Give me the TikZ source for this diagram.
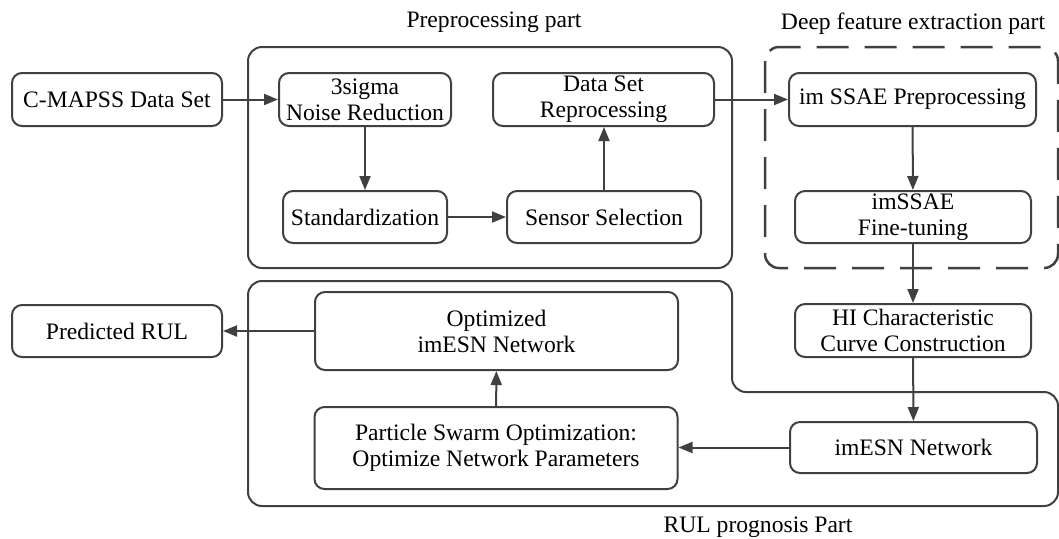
\documentclass[tikz,border=0pt]{standalone}
\usepackage{fontspec}
\setmainfont{Liberation Serif}
\usetikzlibrary{arrows.meta}

\begin{document}
\begin{tikzpicture}[x=0.5pt, y=-0.5pt,
    font=\fontsize{11.8}{13}\selectfont,
    box/.style={draw=black!75, line width=1pt, rounded corners=5pt, align=center, inner sep=0pt},
    frame/.style={draw=black!75, line width=1pt, rounded corners=7pt},
    arr/.style={draw=black!75, line width=1pt, -{Triangle[length=7pt, width=5.5pt]}}]
    \useasboundingbox (0,0) rectangle (1059,538);

    % 枠
    \draw[frame] (248,47) rectangle (732,268);
    \draw[frame, line width=1.25pt, dash pattern=on 16pt off 8pt] (765,47) rectangle (1058,268);
    \draw[frame] (248,281) -- (732,281) -- (732,392) -- (1058,392) -- (1058,506) -- (248,506) -- cycle;

    % 枠のラベル
    \node (lpre) at (494,22) {Preprocessing part};
    \node (ldeep) at (913,24) {Deep feature extraction part};
    \node (lrul) at (758,527) {RUL prognosis Part};

    % ノード
    \node[box, minimum width=105pt, minimum height=26.5pt] (data) at (117,99.5) {C-MAPSS Data Set};
    \node[box, minimum width=86pt, minimum height=26.5pt] (sigma) at (365,99.5) {3sigma\\Noise Reduction};
    \node[box, minimum width=82pt, minimum height=26pt] (std) at (365,217) {Standardization};
    \node[box, minimum width=97pt, minimum height=26pt] (sensor) at (604,217) {Sensor Selection};
    \node[box, minimum width=110.5pt, minimum height=26.5pt] (reproc) at (603.5,99.5) {Data Set\\Reprocessing};
    \node[box, minimum width=123.5pt, minimum height=26.5pt] (ssae) at (912.5,99.5) {im SSAE Preprocessing};
    \node[box, minimum width=118pt, minimum height=26pt] (tune) at (913,217) {imSSAE\\Fine-tuning};
    \node[box, minimum width=118pt, minimum height=26.5pt] (hi) at (913,330.5) {HI Characteristic\\Curve Construction};
    \node[box, minimum width=123.5pt, minimum height=25.5pt] (esn) at (913.5,447.5) {imESN Network};
    \node[box, minimum width=181.5pt, minimum height=41pt] (pso) at (496,448) {Particle Swarm Optimization:\\Optimize Network Parameters};
    \node[box, minimum width=181.5pt, minimum height=39pt] (opt) at (496.5,331) {Optimized\\imESN Network};
    \node[box, minimum width=105pt, minimum height=26pt] (rul) at (117,331) {Predicted RUL};

    % エッジ
    \draw[arr] (data) -- (sigma);
    \draw[arr] (sigma) -- (std);
    \draw[arr] (std) -- (sensor);
    \draw[arr] (sensor) -- (sensor |- reproc.south);
    \draw[arr] (reproc) -- (ssae);
    \draw[arr] (ssae) -- (tune);
    \draw[arr] (tune) -- (hi);
    \draw[arr] (hi) -- (esn);
    \draw[arr] (esn) -- (esn -| pso.east);
    \draw[arr] (pso) -- (opt);
    \draw[arr] (opt) -- (rul);
\end{tikzpicture}
\end{document}
